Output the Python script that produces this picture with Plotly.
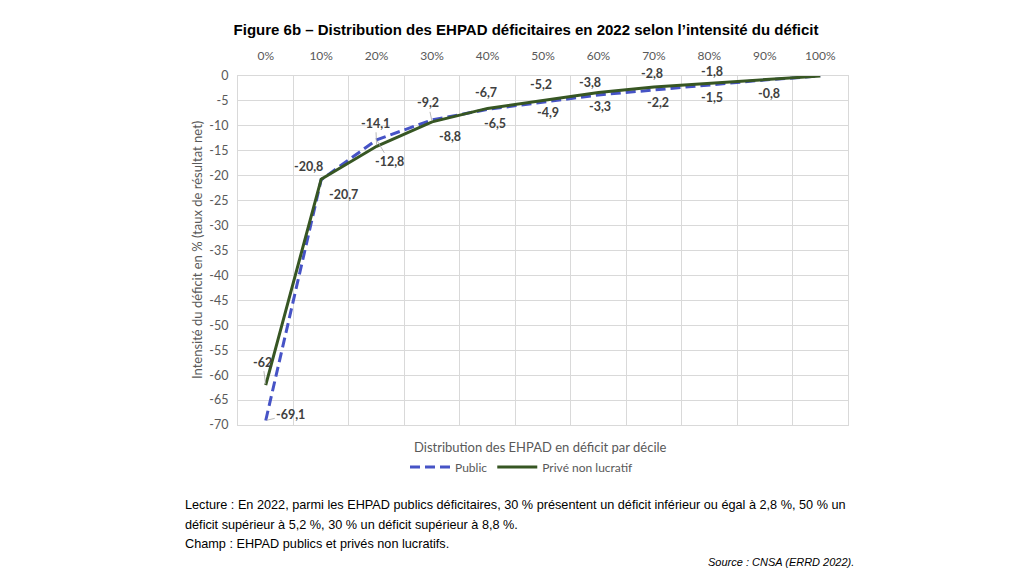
import plotly.graph_objects as go

# ---- data ----
deciles = ["0%", "10%", "20%", "30%", "40%", "50%", "60%", "70%", "80%", "90%", "100%"]
public = [-69.1, -20.8, -12.8, -8.8, -6.7, -5.2, -3.8, -2.8, -1.8, -0.8, 0]
prive = [-62, -20.7, -14.1, -9.2, -6.5, -4.9, -3.3, -2.2, -1.5, -0.8, 0]
y_ticks = list(range(0, -75, -5))
y_tick_labels = [str(v) for v in y_ticks]

# label placement (pixel offsets dx, dy (screen, down positive), leader line)
public_lab = [(25, -6, True), (-13, -13, False), (13, 22, True), (18, 17, False),
              (-2, -17, False), (-2, -17, False), (-8, -12, False), (-2, -16, False),
              (3, -13, False), (4, 14, False), None]
prive_lab = [(-3, -23, True), (22, 15, False), (-1, -23, True), (-4, -19, True),
             (7, 15, False), (5, 12, False), (2, 14, False), (4, 16, False),
             (3, 14, False), None, None]

# page has an 8px body margin: the figure is drawn at (8, 8)
O = 8
W, H = 1024 - O, 581 - O
L, R, T, B = 238 - O, 848 - O, 76 - O, 425 - O


def px(x):
    return (x - O - L) / (R - L)


def py(y):
    return (B - (y - O)) / (B - T)


def fmt(v):
    return ("%g" % v).replace(".", ",")


BLUE = "#4653c6"
GREEN = "#375623"
GRID = "#d9d9d9"
TXT = "#595959"
LAB = "#404040"
FONT = "Lato"

fig = go.Figure()
fig.add_trace(go.Scatter(x=deciles, y=public, mode="lines", name="Public",
                         line=dict(color=BLUE, width=3, dash="10px,5px")))
fig.add_trace(go.Scatter(x=deciles, y=prive, mode="lines", name="Privé non lucratif",
                         line=dict(color=GREEN, width=3)))

ann = []
for vals, labs in ((public, public_lab), (prive, prive_lab)):
    for cat, v, lab in zip(deciles, vals, labs):
        if lab is None:
            continue
        dx, dy, leader = lab
        base = dict(x=cat, y=v, xref="x", yref="y", text="<b>" + fmt(v) + "</b>",
                    font=dict(family=FONT, size=12.5, color=LAB))
        if leader:
            base.update(showarrow=True, ax=dx, ay=dy, arrowhead=0, arrowwidth=0.8,
                        arrowcolor="#a6a6a6", standoff=1)
        else:
            base.update(showarrow=False, xshift=dx, yshift=-dy)
        ann.append(base)

# axis titles
ann.append(dict(x=px(540), y=py(447), xref="paper", yref="paper", showarrow=False,
                xanchor="center", yanchor="middle",
                text="Distribution des EHPAD en déficit par décile",
                font=dict(family=FONT, size=13, color=TXT)))
ann.append(dict(x=px(197), y=py(250), xref="paper", yref="paper", showarrow=False,
                xanchor="center", yanchor="middle",
                textangle=-90, text="Intensité du déficit en % (taux de résultat net)",
                font=dict(family=FONT, size=13, color=TXT)))

# footnotes
foot = dict(family="Liberation Sans", size=12.7, color="#000000")
lines = [
    (505, "Lecture : En 2022, parmi les EHPAD publics déficitaires, 30 % présentent un déficit inférieur ou égal à 2,8 %, 50 % un"),
    (525, "déficit supérieur à 5,2 %, 30 % un déficit supérieur à 8,8 %."),
    (544, "Champ : EHPAD publics et privés non lucratifs."),
]
for yy, t in lines:
    ann.append(dict(x=px(183), y=py(yy), xref="paper", yref="paper", showarrow=False,
                    xanchor="left", yanchor="middle", text=t, font=foot))
ann.append(dict(x=px(856), y=py(562), xref="paper", yref="paper", showarrow=False,
                xanchor="right", yanchor="middle", text="<i>Source : CNSA (ERRD 2022).</i>",
                font=dict(family="Liberation Sans", size=11, color="#000000")))

fig.update_layout(
    width=W, height=H,
    margin=dict(l=L, r=W - R, t=T, b=H - B),
    paper_bgcolor="white", plot_bgcolor="white",
    font=dict(family=FONT, color=TXT),
    title=dict(text="<b>Figure 6b – Distribution des EHPAD déficitaires en 2022 selon l’intensité du déficit</b>",
               x=(526 - O) / W, y=1 - (30 - O) / H, xanchor="center", yanchor="middle",
               font=dict(family="Liberation Sans", size=15, color="#000000")),
    xaxis=dict(type="category", side="top", range=[-0.5, 10.5], tickson="boundaries",
               showgrid=True, gridcolor=GRID, gridwidth=1, ticks="",
               showline=True, linecolor=GRID, mirror=True, zeroline=False,
               tickfont=dict(family=FONT, size=12, color=TXT), ticklabelstandoff=10),
    yaxis=dict(range=[-70, 0], tickvals=y_ticks, ticktext=y_tick_labels,
               showgrid=True, gridcolor=GRID, gridwidth=1, ticks="", zeroline=False,
               showline=True, linecolor=GRID, mirror=True,
               tickfont=dict(family=FONT, size=12.5, color=TXT), ticklabelstandoff=6),
    legend=dict(orientation="h", x=px(522), y=py(467), xanchor="center", yanchor="middle",
                font=dict(family=FONT, size=12, color=TXT), bgcolor="rgba(0,0,0,0)",
                itemwidth=40),
    annotations=ann,
    showlegend=True,
)

fig.write_html("out.html")
